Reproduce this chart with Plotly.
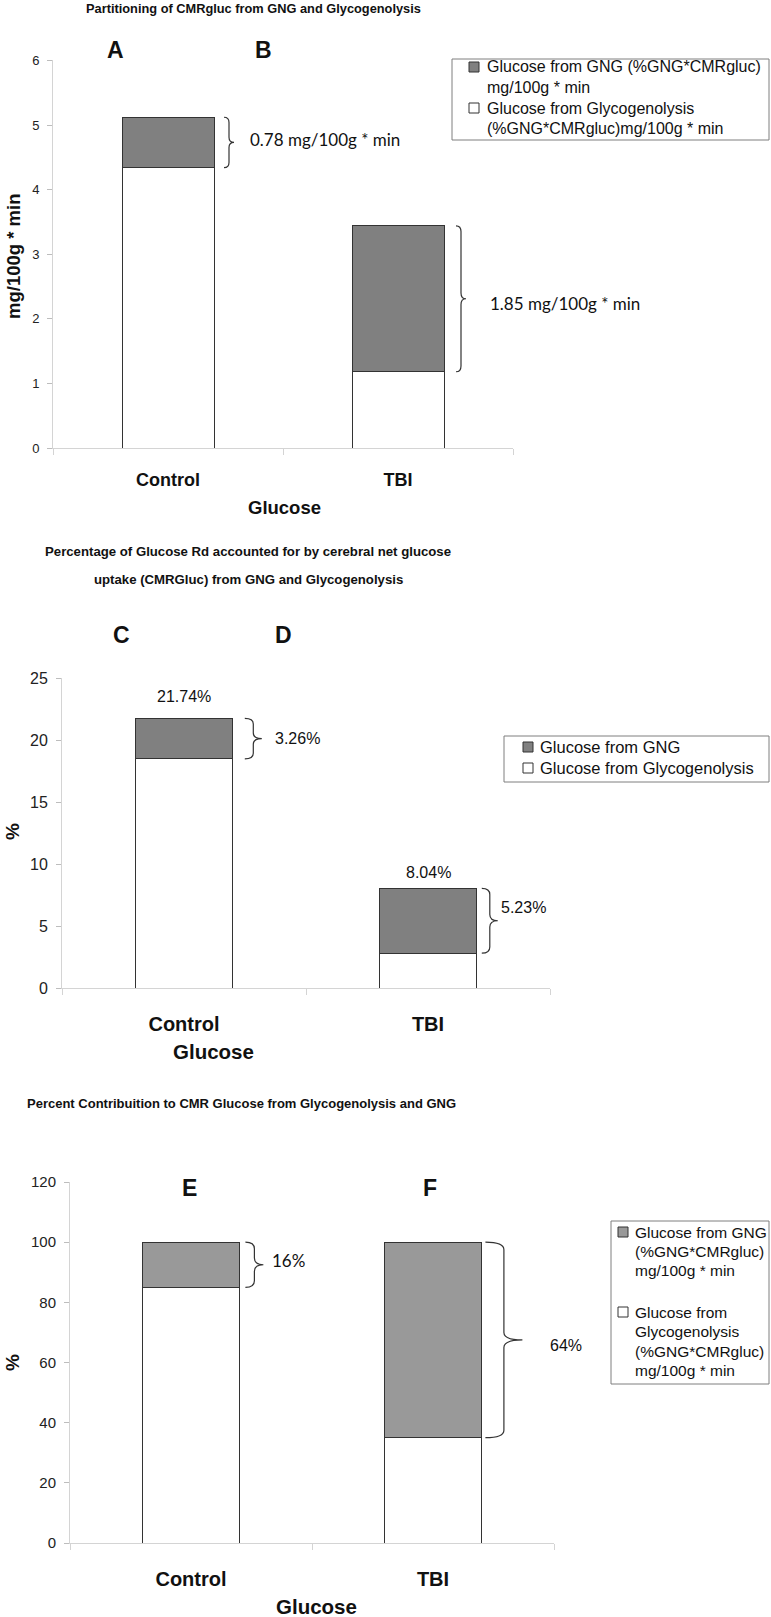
import re
import plotly.graph_objects as go

# ---------------- data ----------------
categories = ["Control", "TBI"]

# Panel A/B : mg/100g * min
ab_glycogenolysis = [4.34, 1.18]
ab_gng = [0.78, 2.26]
ab_gng_labels = ["0.78 mg/100g * min", "1.85 mg/100g * min"]

# Panel C/D : % of glucose Rd
cd_glycogenolysis = [18.48, 2.81]
cd_gng = [3.26, 5.23]
cd_total_labels = ["21.74%", "8.04%"]
cd_gng_labels = ["3.26%", "5.23%"]

# Panel E/F : % contribution
ef_glycogenolysis = [85, 35]
ef_gng = [15, 65]
ef_gng_labels = ["16%", "64%"]

y_ticks_ab = [0, 1, 2, 3, 4, 5, 6]
y_ticks_cd = [0, 5, 10, 15, 20, 25]
y_ticks_ef = [0, 20, 40, 60, 80, 100, 120]

# ---------------- layout helpers ----------------
FW, FH = 771, 1617
def px(x):
    return x / FW
def py(y):
    return 1 - y / FH

ARIAL = "Liberation Sans"
CALIBRI = "Lato"
OUTLINE = "#333333"
AXIS_LINE = "#d4d4d4"
BAR_WIDTH = 0.4
xpos = list(range(len(categories)))

fig = go.Figure()

panels = [
    dict(xa="x", ya="y", white=ab_glycogenolysis, gray=ab_gng, gray_color="#808080"),
    dict(xa="x2", ya="y2", white=cd_glycogenolysis, gray=cd_gng, gray_color="#808080"),
    dict(xa="x3", ya="y3", white=ef_glycogenolysis, gray=ef_gng, gray_color="#999999"),
]
for p in panels:
    fig.add_trace(go.Bar(x=xpos, y=p["white"], width=BAR_WIDTH, xaxis=p["xa"], yaxis=p["ya"],
                         marker=dict(color="white", line=dict(color=OUTLINE, width=1)),
                         name="Glucose from Glycogenolysis", showlegend=False, hoverinfo="skip"))
    fig.add_trace(go.Bar(x=xpos, y=p["gray"], width=BAR_WIDTH, xaxis=p["xa"], yaxis=p["ya"],
                         marker=dict(color=p["gray_color"], line=dict(color=OUTLINE, width=1)),
                         name="Glucose from GNG", showlegend=False, hoverinfo="skip"))

def xaxis(domain, anchor, font_size, standoff):
    return dict(domain=domain, anchor=anchor, range=[-0.5, len(categories) - 0.5],
                tickmode="array", tickvals=xpos, ticktext=[f"<b>{c}</b>" for c in categories],
                ticks="", tickfont=dict(family=ARIAL, size=font_size, color="#111"),
                ticklabelstandoff=standoff, automargin=False, fixedrange=True,
                showline=True, linecolor=AXIS_LINE, linewidth=1, showgrid=False, zeroline=False,
                minor=dict(tickmode="linear", tick0=-0.5, dtick=1, ticks="outside",
                           ticklen=6, tickcolor=AXIS_LINE, showgrid=False))

def yaxis(domain, anchor, rng, tickvals, font_size):
    return dict(domain=domain, anchor=anchor, range=rng, tickmode="array", tickvals=tickvals,
                ticks="outside", ticklen=5, tickcolor="#bdbdbd",
                tickfont=dict(family=ARIAL, size=font_size, color="#222"),
                ticklabelstandoff=5, automargin=False, fixedrange=True,
                showline=True, linecolor=AXIS_LINE, linewidth=1, showgrid=False, zeroline=False)

fig.update_layout(
    width=FW, height=FH, margin=dict(l=0, r=0, t=0, b=0, pad=0, autoexpand=False),
    paper_bgcolor="white", plot_bgcolor="white", barmode="stack", showlegend=False,
    xaxis=xaxis([px(53), px(513)], "y", 18, 15),
    yaxis=yaxis([py(448), py(60.4)], "x", [0, 6], y_ticks_ab, 13),
    xaxis2=xaxis([px(62), px(550)], "y2", 20, 18),
    yaxis2=yaxis([py(988), py(678)], "x2", [0, 25], y_ticks_cd, 16),
    xaxis3=xaxis([px(70), px(554)], "y3", 20, 18),
    yaxis3=yaxis([py(1543), py(1182)], "x3", [0, 120], y_ticks_ef, 15),
)

ann = []
shapes = []

def text(x, y, s, size, family=ARIAL, bold=False, xanchor="center", angle=0, color="#111"):
    ann.append(dict(x=px(x), y=py(y), xref="paper", yref="paper", text=f"<b>{s}</b>" if bold else s,
                    showarrow=False, xanchor=xanchor, yanchor="middle", textangle=angle,
                    font=dict(family=family, size=size, color=color)))

# titles
text(253, 9, "Partitioning of CMRgluc from GNG and Glycogenolysis", 12.8, ARIAL, True)
text(248, 552, "Percentage of Glucose Rd accounted for by cerebral net glucose", 13.2, ARIAL, True)
text(248, 579, "uptake (CMRGluc) from GNG and Glycogenolysis", 13.2, ARIAL, True)
text(241, 1103, "Percent Contribuition to CMR Glucose from Glycogenolysis and GNG", 13, ARIAL, True)

# panel letters
for s, x, y in [("A", 115, 50), ("B", 263, 50), ("C", 121, 635), ("D", 283, 635),
                ("E", 189, 1188), ("F", 430, 1188)]:
    text(x, y, s, 23, ARIAL, True)

# axis titles
text(284, 508, "Glucose", 18.5, ARIAL, True)
text(213, 1051, "Glucose", 20.5, ARIAL, True)
text(316, 1606, "Glucose", 20.5, ARIAL, True)
text(13, 257, "mg/100g * min", 18.5, ARIAL, True, angle=-90)
text(12, 832, "%", 19, ARIAL, True, angle=-90)
text(12, 1363, "%", 19, ARIAL, True, angle=-90)

# braces: x given in pixels from the bar's right edge, y in data units
def brace(xa, ya, i, lo, hi, gap, w, r):
    m = (lo + hi) / 2
    h = w / 2
    pts = (f"M 0,{hi} Q {h},{hi} {h},{hi - r} L {h},{m + r} Q {h},{m} {w},{m} "
           f"Q {h},{m} {h},{m - r} L {h},{lo + r} Q {h},{lo} 0,{lo}")
    pts = re.sub(r"(-?[\d.]+),(-?[\d.eE+-]+)",
                 lambda mo: f"{float(mo.group(1)) + gap:g},{mo.group(2)}", pts)
    shapes.append(dict(type="path", xref=xa, yref=ya, xsizemode="pixel",
                       xanchor=xpos[i] + BAR_WIDTH / 2, path=pts,
                       line=dict(color="#333", width=1.2)))

def bar_label(xa, ya, i, yval, s, xshift, yshift, size, family, xanchor="left"):
    ann.append(dict(x=xpos[i] + (BAR_WIDTH / 2 if xanchor == "left" else 0), y=yval,
                    xref=xa, yref=ya, text=s, showarrow=False, xanchor=xanchor, yanchor="middle",
                    xshift=xshift, yshift=yshift, font=dict(family=family, size=size, color="#111")))

# Panel A/B braces and labels
ab_tot = [a + b for a, b in zip(ab_glycogenolysis, ab_gng)]
brace("x", "y", 0, ab_glycogenolysis[0], ab_tot[0], 10, 10, 0.08)
brace("x", "y", 1, ab_glycogenolysis[1], ab_tot[1], 12, 10, 0.09)
bar_label("x", "y", 0, (ab_glycogenolysis[0] + ab_tot[0]) / 2, ab_gng_labels[0], 34, 3, 17, CALIBRI)
bar_label("x", "y", 1, (ab_glycogenolysis[1] + ab_tot[1]) / 2, ab_gng_labels[1], 44, -5, 17, CALIBRI)

# Panel C/D
cd_tot = [a + b for a, b in zip(cd_glycogenolysis, cd_gng)]
brace("x2", "y2", 0, cd_glycogenolysis[0], cd_tot[0], 12, 17, 0.45)
brace("x2", "y2", 1, cd_glycogenolysis[1], cd_tot[1], 5, 16, 0.5)
bar_label("x2", "y2", 0, (cd_glycogenolysis[0] + cd_tot[0]) / 2, cd_gng_labels[0], 40, 0, 16, ARIAL)
bar_label("x2", "y2", 1, (cd_glycogenolysis[1] + cd_tot[1]) / 2, cd_gng_labels[1], 22, 13, 16, ARIAL)
bar_label("x2", "y2", 0, cd_tot[0], cd_total_labels[0], 0, 22, 16, ARIAL, xanchor="center")
bar_label("x2", "y2", 1, cd_tot[1], cd_total_labels[1], 0, 16, 16, ARIAL, xanchor="center")

# Panel E/F
ef_tot = [a + b for a, b in zip(ef_glycogenolysis, ef_gng)]
brace("x3", "y3", 0, ef_glycogenolysis[0], ef_tot[0], 6, 18, 2.2)
brace("x3", "y3", 1, ef_glycogenolysis[1], ef_tot[1], 4, 37, 2.5)
bar_label("x3", "y3", 0, (ef_glycogenolysis[0] + ef_tot[0]) / 2, ef_gng_labels[0], 31, 4, 17, CALIBRI)
bar_label("x3", "y3", 1, (ef_glycogenolysis[1] + ef_tot[1]) / 2, ef_gng_labels[1], 67, -6, 16, ARIAL)

# ---------------- legends (drawn boxes) ----------------
def legend(box, items, size):
    x0, y0, x1, y1 = box
    shapes.append(dict(type="rect", xref="paper", yref="paper", x0=px(x0), x1=px(x1),
                       y0=py(y1), y1=py(y0), line=dict(color="#7f7f7f", width=1), fillcolor="white"))
    for (mx, my, color, lines, tx, ys) in items:
        shapes.append(dict(type="rect", xref="paper", yref="paper", x0=px(mx - 5), x1=px(mx + 5),
                           y0=py(my + 5), y1=py(my - 5), line=dict(color=OUTLINE, width=1),
                           fillcolor=color))
        for s, yy in zip(lines, ys):
            text(tx, yy, s, size, ARIAL, False, xanchor="left", color="#111")

legend((452, 59, 769, 140), [
    (474, 67, "#808080", ["Glucose from GNG (%GNG*CMRgluc)", "mg/100g * min"], 485, [67, 88]),
    (474, 108, "white", ["Glucose from Glycogenolysis", "(%GNG*CMRgluc)mg/100g * min"], 485, [108, 128]),
], 16)

legend((504, 736, 769, 782), [
    (528, 747, "#808080", ["Glucose from GNG"], 538, [747]),
    (528, 768, "white", ["Glucose from Glycogenolysis"], 538, [768]),
], 16.5)

legend((611, 1221, 769, 1384), [
    (623, 1232, "#999999", ["Glucose from GNG", "(%GNG*CMRgluc)", "mg/100g * min"], 633, [1232, 1251, 1270]),
    (623, 1312, "white", ["Glucose from", "Glycogenolysis", "(%GNG*CMRgluc)", "mg/100g * min"], 633,
     [1312, 1331, 1351, 1370]),
], 15.5)

fig.update_layout(annotations=ann, shapes=shapes)

# pin the figure to the top-left corner of the window so the page is exactly the figure
pin = ("document.body.style.margin='0';"
       "var d=document.getElementById('{plot_id}');"
       "d.style.position='fixed';d.style.left='0px';d.style.top='0px';")
fig.write_html("out.html", post_script=pin,
               config={"displayModeBar": False, "staticPlot": True})
